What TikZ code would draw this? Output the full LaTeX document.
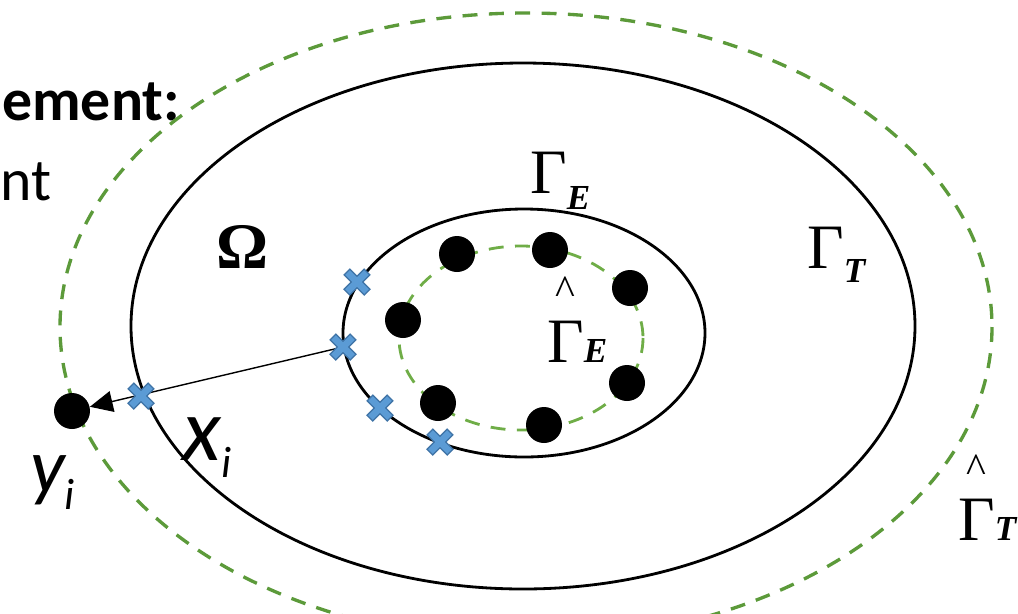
\documentclass[tikz,border=0pt]{standalone}
\usepackage{fontspec}
\setmainfont{Carlito}
\newfontfamily\serifgreek{Liberation Serif}
\usetikzlibrary{arrows.meta,positioning,calc}
\definecolor{outergreen}{HTML}{5C9A3A}
\definecolor{innergreen}{HTML}{6FAD47}
\definecolor{sensorblue}{HTML}{5B9BD5}
\definecolor{sensoredge}{HTML}{3F73A6}
\newcommand{\lowsub}[2]{\raisebox{#1}{\fontsize{20}{22}\selectfont\bfseries\itshape #2}}
\newcommand{\sanssub}[2]{\raisebox{#1}{\fontsize{25}{27}\selectfont\itshape #2}}
\newcommand{\hatted}[1]{\shortstack{{\fontsize{24}{26}\selectfont\^{}}\\[6pt]#1}}
\tikzset{
  boundary/.style={draw=black,line width=1.6pt},
  artificial/.style={line width=1.9pt,dash pattern=on 8.5pt off 6.5pt},
  source/.style={circle,fill=black,inner sep=0pt,minimum size=0.72cm},
  pointer/.style={-{Triangle[length=13pt,width=12pt]},line width=0.8pt,draw=black},
  greek/.style={font=\serifgreek\fontsize{36}{40}\selectfont,inner sep=0pt,anchor=base west},
  headline/.style={font=\fontsize{34}{38}\selectfont,inner sep=0pt,anchor=base west},
  pointlabel/.style={inner sep=0pt,anchor=base west},
  sensor/.pic={
    \draw[sensoredge,line width=5.4pt] (-10.5,-10.5) -- (10.5,10.5) (-10.5,10.5) -- (10.5,-10.5);
    \draw[sensorblue,line width=3.8pt] (-9.5,-9.5) -- (9.5,9.5) (-9.5,9.5) -- (9.5,-9.5);
  }
}

\begin{document}
\begin{tikzpicture}[x=0.02cm,y=-0.02cm]
  \useasboundingbox (0,0) rectangle (1018,613);

  % slide text cut by the picture
  \node[headline,font=\fontsize{34}{38}\selectfont\bfseries] (stmthead) at (2,120) {ement:};
  \node[headline] (stmttext) at (0,200) {nt};

  % boundaries
  \draw[artificial,draw=outergreen] (526,327) ellipse [x radius=466, y radius=314];
  \draw[boundary] (523,326) ellipse [x radius=392, y radius=263];
  \draw[boundary] (524,333) ellipse [x radius=181, y radius=124];
  \draw[artificial,draw=innergreen,line width=1.6pt] (521,338) ellipse [x radius=122, y radius=92];

  % sources on the inner dashed curve
  \foreach \name/\pos in {d1/{(457,254)},d2/{(550,250)},d3/{(630,288)},d4/{(403,320)},
                          d5/{(627,383)},d6/{(438,403)},d7/{(544,425)}}
    \node[source] (\name) at \pos {};
  \node[source] (srcY) at (72,411) {};

  % sensors on the boundaries
  \coordinate (s1) at (357,282);
  \coordinate (s2) at (343,347);
  \coordinate (s3) at (380,408);
  \coordinate (s4) at (440,442);
  \coordinate (s5) at (141,396);

  \draw[pointer] (s2) -- (srcY);
  \foreach \s in {s1,s2,s3,s4,s5}
    \pic at (\s) {sensor};

  % labels
  \node[font=\serifgreek\bfseries\fontsize{37}{40}\selectfont,inner sep=0pt] (omega) at (243,247) {Ω};
  \node[greek] (gammaE) at (530,193) {Γ\lowsub{-9.5pt}{E}};
  \node[greek] (gammaT) at (807,268) {Γ\lowsub{-8.5pt}{T}};
  \node[greek] (gammaEhat) at (547,362) {\hatted{Γ}\lowsub{0pt}{E}};
  \node[greek] (gammaThat) at (958,540) {\hatted{Γ}\lowsub{0pt}{T}};
  \node[pointlabel,font=\fontsize{51}{54}\selectfont\itshape] (xlab) at (182,460) {x\sanssub{-10pt}{i}};
  \node[pointlabel,font=\fontsize{44}{48}\selectfont\itshape] (ylab) at (30,492) {y\sanssub{-10pt}{i}};
\end{tikzpicture}
\end{document}
